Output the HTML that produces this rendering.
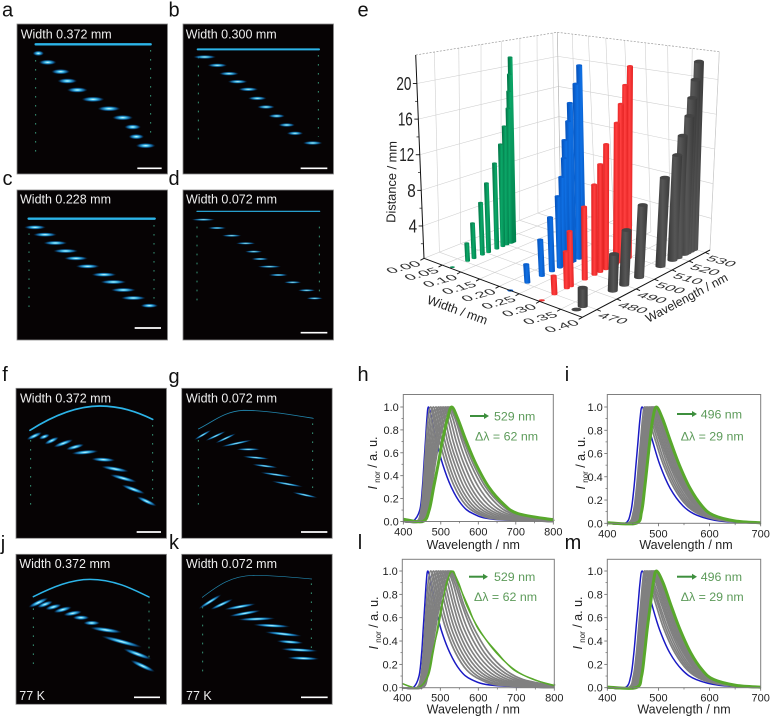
<!DOCTYPE html>
<html lang="en">
<head>
<meta charset="utf-8">
<title>Waveguide micrographs and spectra</title>
<style>
html,body{margin:0;padding:0;background:#fff;width:770px;height:718px;overflow:hidden}
svg{display:block;font-family:"Liberation Sans",sans-serif}
</style>
</head>
<body>
<svg id="fig" xmlns="http://www.w3.org/2000/svg" width="770" height="718" viewBox="0 0 770 718">
<defs>
<radialGradient id="blob"><stop offset="0" stop-color="#e4f9ff"/><stop offset=".3" stop-color="#48ccf5"/><stop offset=".68" stop-color="#0f69b0" stop-opacity=".8"/><stop offset="1" stop-color="#05304f" stop-opacity="0"/></radialGradient>
<linearGradient id="g-green"><stop offset="0" stop-color="#006f42"/><stop offset=".5" stop-color="#0ca868"/><stop offset="1" stop-color="#007f4c"/></linearGradient>
<linearGradient id="g-blue"><stop offset="0" stop-color="#0550b8"/><stop offset=".5" stop-color="#0f70e4"/><stop offset="1" stop-color="#0656c0"/></linearGradient>
<linearGradient id="g-red"><stop offset="0" stop-color="#e01e1e"/><stop offset=".5" stop-color="#ff4040"/><stop offset="1" stop-color="#e42222"/></linearGradient>
<linearGradient id="g-dark"><stop offset="0" stop-color="#383838"/><stop offset=".5" stop-color="#565656"/><stop offset="1" stop-color="#3a3a3a"/></linearGradient>
</defs>
</svg>
<script>
/* ---------- 3D bar chart data (panel e) ---------- */
const distanceValues = [0,2,4,6,8,10,12,14,16,18,20,22];
const green072Wavelengths = [464,471,474,478,481,485,488,490,492,492.5,493,493.5];
const blue228Wavelengths = [463,471,478,483,487,489,490.5,491,493,494,497,499];
const red300Wavelengths = [464,470,476,478,485,490,493,496,501.5,503.6,506,508.6];
const dark372Wavelengths = [466,469,484,490,498,510,517,520,524,525.5,527.5,529.5];
const ribbonWidths = [0.072,0.228,0.300,0.372];
const widthTicks = ['0.00','0.05','0.10','0.15','0.20','0.25','0.30','0.35','0.40'];
const wavelengthTicks = [470,480,490,500,510,520,530];
const distanceTicks = [4,8,12,16,20];

/* ---------- spectra data: wavelength (nm) where each curve crosses each intensity level ---------- */
const levels = [0,.1,.3,.5,.7,.9,1,.9,.7,.5,.3,.15,.07,.02];
const hBlue = [425,444,451,455,459,463,467,476,489,505,528,555,585,640];
const hGreen = [452,469,481,493,504,518,529,545,568,594,628,668,705,790];
const hGray = [
[436,447,453,457,461,466,473,483,497,514,537,565,597,650],
[438,449,455,460,465,471,480,490,504,521,545,574,606,660],
[440,451,458,463,469,476,487,497,511,529,553,583,616,670],
[442,453,460,466,473,481,494,504,518,537,562,593,627,682],
[444,455,462,469,477,486,500,511,525,545,571,603,638,695],
[446,457,465,472,481,491,506,518,533,553,580,613,650,708],
[447,459,467,475,485,496,512,525,541,562,590,625,662,722],
[448,461,470,478,488,501,517,532,549,571,601,637,675,738],
[450,463,473,481,492,506,521,538,557,580,612,650,688,755],
[451,465,476,485,496,511,525,541,562,587,620,660,698,770]];
const iBlue = [435,446,452,456,460,464,468,476,489,503,523,548,575,620];
const iGreen = [456,467,473,478,483,489,496,508,524,541,562,585,607,650];
const iGray = [
[440,451,457,461,465,469,473,481,495,510,531,556,584,630],
[442,453,459,463,467,472,476,485,499,514,535,560,588,634],
[444,455,461,465,469,474,479,488,503,518,539,564,592,637],
[446,457,463,467,471,476,482,491,506,522,543,568,596,640],
[447,458,464,469,473,478,485,494,509,525,547,572,600,642],
[449,460,466,471,475,480,487,497,512,528,550,575,603,644],
[450,461,467,472,477,482,489,500,515,531,553,578,605,646],
[452,463,469,474,479,484,491,502,518,534,556,581,607,648],
[453,464,470,475,480,486,493,504,520,537,558,582,608,649],
[455,466,472,477,482,488,495,506,522,539,560,584,609,650]];
const lBlue = [428,444,451,455,459,463,467,475,487,502,525,552,582,640];
const lGreen = [440,468,481,492,503,518,530,548,570,602,647,697,745,800];
const lGreenNoisy = [442,466,479,494,505,516,533,546,573,600,650,694,748,796];
const lGray = [
[438,449,455,459,463,468,475,485,498,515,540,570,605,660],
[440,451,457,462,467,473,482,492,505,522,548,580,615,672],
[442,453,460,465,471,478,489,499,513,530,557,590,628,686],
[444,455,462,468,475,483,495,506,520,538,566,601,640,700],
[446,457,464,471,479,488,501,512,527,546,575,612,652,715],
[448,459,467,474,483,493,507,519,535,554,585,624,665,730],
[449,461,469,477,487,498,513,526,542,563,595,636,678,745],
[450,463,472,480,490,503,518,533,550,572,606,648,692,760],
[452,465,475,483,494,508,522,538,558,582,616,660,705,775],
[453,467,478,487,498,513,526,543,563,590,627,672,718,790]];
const mBlue = [435,446,452,456,460,464,468,476,488,502,522,547,574,620];
const mGreen = [456,467,473,478,484,490,496,509,525,542,563,586,608,652];
const mGray = [
[441,451,457,461,465,469,473,482,496,511,532,557,585,632],
[443,453,459,463,467,471,476,485,500,515,536,561,589,636],
[444,455,461,465,469,473,479,488,503,519,540,565,593,639],
[446,457,463,467,471,476,482,491,507,523,544,569,597,642],
[448,459,465,469,473,478,485,495,510,526,548,573,601,644],
[449,460,466,471,475,480,487,498,513,529,551,576,604,646],
[451,462,468,473,477,482,489,500,516,532,554,579,606,648],
[452,463,469,474,479,484,491,503,519,535,557,582,608,650],
[453,465,471,476,481,486,493,505,521,538,559,583,609,651],
[455,466,472,477,482,488,495,507,523,540,561,585,610,652]];
const xTicksWide = [400,500,600,700,800];
const xTicksNarrow = [400,500,600,700];
const yTicks = [0,.2,.4,.6,.8,1];

/* ---------- micrograph features (reference-crop coordinates, 3 units = 1 px) ---------- */
const panels = [
 {id:'a',x:17,y:24,ox:0,oy:0,lx:7.5,ly:16.5,tx:20.7,ty:38.5,title:'Width 0.372 mm',sb:[412,485,505],ry:2.7,op:1,
  line:'M107 133 L452 133',lw:2.4,dots:[[107,180,455],[452,150,415]],
  blobs:[[115,160,22,0],[143,187,34,0],[182,215,36,0],[202,243,38,0],[232,270,40,0],[279,298,44,0],[327,326,44,0],[368,353,40,0],[398,381,32,0],[409,410,30,0],[437,437,38,0]]},
 {id:'b',x:183,y:24,ox:0,oy:0,lx:174,ly:16.5,tx:185.7,ty:38.5,title:'Width 0.300 mm',sb:[902,982,505],ry:2,op:.95,
  line:'M593 148 L957 148',lw:2,dots:[[595,170,425],[955,165,410]],
  blobs:[[614,171,44,0],[652,196,38,0],[687,221,38,0],[713,245,38,0],[745,268,38,0],[772,295,36,0],[798,321,34,0],[830,348,32,0],[860,375,32,0],[885,400,32,0],[938,429,38,0]]},
 {id:'c',x:17,y:190,ox:0,oy:0,lx:7.5,ly:185,tx:20,ty:203.5,title:'Width 0.228 mm',sb:[404,483,984],ry:2.2,op:1,
  line:'M86 656 L464 656',lw:2.4,dots:[[87,700,925],[462,675,900]],
  blobs:[[105,682,42,0],[135,704,46,0],[166,729,46,0],[197,753,48,0],[228,775,46,0],[263,799,46,0],[312,824,48,0],[340,846,50,0],[370,870,48,0],[400,894,48,0],[448,917,34,0]]},
 {id:'d',x:183,y:190,ox:0,oy:0,lx:174,ly:185,tx:186,ty:203.5,title:'Width 0.072 mm',sb:[902,982,998],ry:1.3,op:.9,
  line:'M591 634 L959 634',lw:1.2,dots:[[591,680,905],[958,680,880]],
  blobs:[[610,659,46,0],[651,684,36,0],[695,707,38,0],[737,730,38,0],[761,755,34,0],[780,777,34,0],[808,800,46,0],[835,825,38,0],[878,847,34,0],[920,871,34,0],[944,895,32,0]]},
 {id:'f',x:16,y:388.3,ox:0,oy:360,lx:5,ly:381,tx:20,ty:402.5,title:'Width 0.372 mm',sb:[410,483,516],ry:2.2,op:1,
  line:'M90 211 C170 160 240 138 300 138 C360 138 410 155 458 178',lw:1.7,dots:[[92,240,445],[458,195,420]],
  blobs:[[103,228,32,-25],[133,230,22,-20],[155,242,30,-25],[190,250,40,-20],[225,261,36,-15],[255,277,52,-5],[310,299,46,3],[345,327,54,10],[370,355,54,15],[400,388,48,20],[440,424,42,25]]},
 {id:'g',x:181.7,y:388.3,ox:0,oy:360,lx:174,ly:383,tx:186,ty:402.5,title:'Width 0.072 mm',sb:[903,982,516],ry:1.3,op:.95,
  line:'M595 207 C640 185 670 155 730 151 C800 151 880 165 940 175',lw:.8,dots:[[595,240,440],[938,190,390]],
  blobs:[[608,225,38,-30],[647,228,44,-25],[677,235,44,-25],[710,250,62,-12],[745,268,46,0],[768,293,52,5],[795,318,50,7],[828,344,62,8],[862,372,62,10],[915,405,50,12]]},
 {id:'j',x:16,y:554.3,ox:0,oy:360,lx:3,ly:550,tx:19.3,ty:568,title:'Width 0.372 mm',sb:[402,480,1012],ry:2.4,op:1,foot:'77 K',fx:19.3,
  line:'M100 710 C160 680 215 658 270 658 C340 658 395 685 447 711',lw:1.5,dots:[[100,745,925],[447,725,905]],
  blobs:[[115,728,42,-25],[135,733,32,-20],[160,741,32,-15],[188,749,36,-15],[218,760,36,-10],[243,773,32,0],[275,789,32,0],[318,810,62,8],[365,845,82,15],[412,882,58,20],[428,918,52,25]]},
 {id:'k',x:181.7,y:554.3,ox:0,oy:360,lx:174,ly:549,tx:186,ty:568,title:'Width 0.072 mm',sb:[903,983,1012],ry:1.8,op:1,foot:'77 K',fx:186,
  line:'M607 712 C650 680 690 648 760 646 C820 646 880 652 935 657',lw:.7,dots:[[608,740,950],[934,670,870]],
  blobs:[[630,725,52,-32],[665,733,48,-25],[720,740,62,-10],[735,760,62,-10],[770,777,72,-2],[815,797,72,3],[850,822,72,6],[870,846,52,4],[898,870,72,3],[910,895,62,2]]}
];

const S = 'http://www.w3.org/2000/svg';
const fig = document.getElementById('fig');
function add(parent, tag, attrs, name, interact) {
  const n = document.createElementNS(S, tag);
  for (const k in attrs) n.setAttribute(k, attrs[k]);
  
  
  parent.appendChild(n);
  return n;
}
function label(parent, str, x, y, size, fill, name, extra) {
  const t = add(parent, 'text', Object.assign({x:x, y:y, 'font-size':size, fill:fill}, extra || {}), name);
  t.textContent = str;
  return t;
}
function letter(str, x, y) {
  return label(fig, str, x, y, 20, '#111', 'panel-letter-' + str, {'text-anchor':'middle'});
}

/* ---------- micrographs ---------- */
panels.forEach(function (p) {
  const g = add(fig, 'g', {}, 'micrograph-' + p.id);
  add(g, 'rect', {x:p.x, y:p.y, width:150.5, height:150, fill:'#060304', stroke:'#8a8a8a', 'stroke-width':.8}, 'micrograph-background');
  const inner = add(g, 'g', {transform:'translate(' + p.ox + ' ' + p.oy + ') scale(.33333)'}, 'waveguide-features');
  p.dots.forEach(function (d) {
    add(inner, 'line', {x1:d[0], y1:d[1], x2:d[0], y2:d[2], stroke:'#45b893', 'stroke-width':2.8, 'stroke-dasharray':'5 22', opacity:.85}, 'edge-scatter-dots');
  });
  add(inner, 'path', {d:p.line, fill:'none', stroke:'#2cb4e8', 'stroke-width':p.lw * 3, 'stroke-linecap':'round', opacity:p.lw < 1 ? .75 : 1}, 'crystal-top-edge');
  p.blobs.forEach(function (b) {
    add(inner, 'ellipse', {cx:b[0], cy:b[1], rx:b[2] * .78, ry:p.ry * 3, fill:'url(#blob)', opacity:p.op, transform:'rotate(' + b[3] + ' ' + b[0] + ' ' + b[1] + ')'}, 'emission-spot');
  });
  add(inner, 'line', {x1:p.sb[0], y1:p.sb[2], x2:p.sb[1], y2:p.sb[2], stroke:'#fff', 'stroke-width':5}, 'scale-bar');
  label(g, p.title, p.tx, p.ty, 12.5, '#eee', 'width-label');
  if (p.foot) label(g, p.foot, p.fx, 700, 12.5, '#eee', 'temperature-label');
  letter(p.id, p.lx, p.ly);
});

/* ---------- panel e: perspective 3D bars ---------- */
function quadMap(p00, p10, p11, p01) {
  const dx1 = p10[0] - p11[0], dx2 = p01[0] - p11[0], sx = p00[0] - p10[0] + p11[0] - p01[0];
  const dy1 = p10[1] - p11[1], dy2 = p01[1] - p11[1], sy = p00[1] - p10[1] + p11[1] - p01[1];
  const den = dx1 * dy2 - dx2 * dy1;
  const g = (sx * dy2 - dx2 * sy) / den, h = (dx1 * sy - sx * dy1) / den;
  const a = p10[0] - p00[0] + g * p10[0], b = p01[0] - p00[0] + h * p01[0];
  const d = p10[1] - p00[1] + g * p10[1], e = p01[1] - p00[1] + h * p01[1];
  return function (u, v) {
    const w = g * u + h * v + 1;
    return [(a * u + b * v + p00[0]) / w, (d * u + e * v + p00[1]) / w];
  };
}
const floorAt = quadMap([424,258.3],[582.3,317.3],[710,250],[560.7,204]);
const ceilAt = quadMap([415.7,55],[583,100.7],[719.3,51.7],[557.3,32.3]);
const maxZ = 23.2;
function uOf(w) { return w / 0.4; }
function vOf(l) { return (l - 463) / 70; }
function at(u, v, f) {
  const a = floorAt(u, v), b = ceilAt(u, v);
  return [a[0] + (b[0] - a[0]) * f, a[1] + (b[1] - a[1]) * f];
}
function tickFrac(z) { return (z - .37) / 22.83; }
const chart = add(fig, 'g', {}, 'distance-bar-chart-3d');
function seg(parent, a, b, stroke, w, name, dash) {
  const attrs = {x1:a[0], y1:a[1], x2:b[0], y2:b[1], stroke:stroke, 'stroke-width':w};
  if (dash) attrs['stroke-dasharray'] = dash;
  return add(parent, 'line', attrs, name);
}
const gridCol = '#d0d0d0';
wavelengthTicks.forEach(function (l) {
  const v = vOf(l);
  seg(chart, at(0, v, 0), at(0, v, 1), gridCol, .6, 'left-wall-gridline');
  seg(chart, floorAt(0, v), floorAt(1, v), gridCol, .6, 'floor-gridline');
});
widthTicks.forEach(function (t) {
  const u = uOf(parseFloat(t));
  seg(chart, at(u, 1, 0), at(u, 1, 1), gridCol, .6, 'right-wall-gridline');
  seg(chart, floorAt(u, 0), floorAt(u, 1), gridCol, .6, 'floor-gridline');
});
distanceTicks.forEach(function (z) {
  const f = tickFrac(z);
  seg(chart, at(0, 0, f), at(0, 1, f), gridCol, .6, 'left-wall-gridline');
  seg(chart, at(0, 1, f), at(1, 1, f), gridCol, .6, 'right-wall-gridline');
});
seg(chart, at(0,0,1), at(0,1,1), '#999', .7, 'top-frame-edge', '2 1.5');
seg(chart, at(0,1,1), at(1,1,1), '#999', .7, 'top-frame-edge', '2 1.5');
seg(chart, at(0,1,0), at(0,1,1), '#bbb', .7, 'back-corner-edge');
seg(chart, at(1,1,0), at(1,1,1), '#ccc', .7, 'right-frame-edge');

const barSeries = [
  {name:'green', wl:green072Wavelengths, w:ribbonWidths[0], r:2.4, cap:'#0a8f58'},
  {name:'blue', wl:blue228Wavelengths, w:ribbonWidths[1], r:3, cap:'#0a60d0'},
  {name:'red', wl:red300Wavelengths, w:ribbonWidths[2], r:3, cap:'#f03434'},
  {name:'dark', wl:dark372Wavelengths, w:ribbonWidths[3], r:5, cap:'#444444'}
];
barSeries.forEach(function (s) {
  const u = uOf(s.w);
  const order = s.wl.map(function (l, i) { return i; }).reverse();
  order.forEach(function (i) {
    const v = vOf(s.wl[i]);
    const z = distanceValues[i];
    const b = floorAt(u, v), t = at(u, v, z / maxZ);
    const r = s.r, ry = r * .38;
    if (z > 0) {
      const d = 'M' + (b[0] - r) + ' ' + b[1] + ' A' + r + ' ' + ry + ' 0 0 0 ' + (b[0] + r) + ' ' + b[1] +
        ' L' + (t[0] + r) + ' ' + t[1] + ' L' + (t[0] - r) + ' ' + t[1] + ' Z';
      add(chart, 'path', {d:d, fill:'url(#g-' + s.name + ')'}, 'bar-' + s.name);
    }
    add(chart, 'ellipse', {cx:t[0], cy:t[1], rx:r, ry:ry, fill:s.cap}, 'bar-top-' + s.name);
  });
});

seg(chart, at(0,0,0), at(0,0,1), '#111', 1, 'distance-axis');
seg(chart, at(0,0,0), at(1,0,0), '#111', 1, 'width-axis');
seg(chart, at(1,0,0), at(1,1,0), '#111', 1, 'wavelength-axis');
distanceTicks.forEach(function (z) {
  const p = at(0, 0, tickFrac(z));
  seg(chart, p, [p[0] - 4, p[1]], '#111', .9, 'distance-tick');
  const q = at(0, 0, tickFrac(z - 2));
  seg(chart, q, [q[0] - 2.5, q[1]], '#111', .7, 'distance-minor-tick');
  label(chart, String(z), p[0] - 5.5, p[1] + 6.5, 18, '#222', 'distance-tick-label', {'text-anchor':'end', textLength: z < 10 ? 8.5 : 15, lengthAdjust:'spacingAndGlyphs'});
});
widthTicks.forEach(function (t) {
  const u = uOf(parseFloat(t));
  const p = floorAt(u, 0);
  seg(chart, p, [p[0] - 3.6, p[1] + 2], '#111', .9, 'width-tick');
  label(chart, t, 0, 0, 15, '#333', 'width-tick-label', {'text-anchor':'middle', transform:'matrix(1.08 -.3 .6 .46 ' + (p[0] - 17.5) + ' ' + (p[1] + 11.2) + ')'});
});
wavelengthTicks.forEach(function (l) {
  const p = floorAt(1, vOf(l));
  seg(chart, p, [p[0] + 4, p[1] + 1.6], '#111', .9, 'wavelength-tick');
  label(chart, String(l), 0, 0, 15, '#333', 'wavelength-tick-label', {'text-anchor':'middle', transform:'matrix(1.08 .29 -.6 .46 ' + (p[0] + 13) + ' ' + (p[1] + 11) + ')'});
});
label(chart, 'Distance / mm', 0, 0, 12.8, '#222', 'distance-axis-title', {'text-anchor':'middle', transform:'translate(396 182) rotate(-89)'});
label(chart, 'Width / mm', 0, 0, 12.5, '#222', 'width-axis-title', {'text-anchor':'middle', transform:'translate(456 314) rotate(20)'});
label(chart, 'Wavelength / nm', 0, 0, 12.2, '#222', 'wavelength-axis-title', {'text-anchor':'middle', transform:'translate(688.6 301.5) rotate(-28)'});
letter('e', 363, 16.5);

/* ---------- spectra panels ---------- */
function smooth(pts) {
  let d = 'M' + pts[0][0].toFixed(2) + ' ' + pts[0][1].toFixed(2);
  for (let i = 0; i < pts.length - 1; i++) {
    const p0 = pts[Math.max(i - 1, 0)], p1 = pts[i], p2 = pts[i + 1], p3 = pts[Math.min(i + 2, pts.length - 1)];
    d += ' C' + (p1[0] + (p2[0] - p0[0]) / 6).toFixed(2) + ' ' + (p1[1] + (p2[1] - p0[1]) / 6).toFixed(2) +
      ' ' + (p2[0] - (p3[0] - p1[0]) / 6).toFixed(2) + ' ' + (p2[1] - (p3[1] - p1[1]) / 6).toFixed(2) +
      ' ' + p2[0].toFixed(2) + ' ' + p2[1].toFixed(2);
  }
  return d;
}
const spectra = [
 {id:'h',left:403.3,right:553.3,y0:521.5,y1:407,top:394.5,xmax:800,ticks:xTicksWide,blue:hBlue,gray:hGray,green:hGreen,gw:3,tail:.02,lx:363,ly:381,tcx:473.3,tby:549,arrow:[470,489,416],peak:'529 nm',px:494,py:420.5,delta:'Δλ = 62 nm',dx:475,dy:440.5,ytx:377,yty:463},
 {id:'i',left:607.3,right:760.7,y0:523.3,y1:407,top:394.5,xmax:700,ticks:xTicksNarrow,blue:iBlue,gray:iGray,green:iGreen,gw:3,tail:.005,lx:567,ly:381,tcx:686,tby:549,arrow:[677,697,414],peak:'496 nm',px:700.7,py:418.5,delta:'Δλ = 29 nm',dx:680.7,dy:440.5,ytx:585,yty:463},
 {id:'l',left:402.3,right:554.3,y0:687.7,y1:571,top:559.3,xmax:800,ticks:xTicksWide,blue:lBlue,gray:lGray,green:lGreen,gw:1.4,tail:.035,lx:360,ly:549,tcx:473.3,tby:713.5,arrow:[469,488,576.7],peak:'529 nm',px:494,py:581,delta:'Δλ = 62 nm',dx:474,dy:601,ytx:378,yty:623},
 {id:'m',left:607.3,right:760.7,y0:687.7,y1:571,top:559.3,xmax:700,ticks:xTicksNarrow,blue:mBlue,gray:mGray,green:mGreen,gw:3,tail:.005,lx:573,ly:549,tcx:684,tby:713.5,arrow:[677,697,576.7],peak:'496 nm',px:700.7,py:581,delta:'Δλ = 29 nm',dx:680.7,dy:601,ytx:582,yty:623}
];
spectra.forEach(function (c) {
  const g = add(fig, 'g', {}, 'spectrum-chart-' + c.id);
  const x = function (l) { return c.left + (l - 400) / (c.xmax - 400) * (c.right - c.left); };
  const y = function (v) { return c.y0 - v * (c.y0 - c.y1); };
  function curve(arr, tail, stroke, w, name, start) {
    const pts = [[x(400), y(start)]];
    arr.forEach(function (l, i) { pts.push([x(l), y(levels[i])]); });
    if (arr[arr.length - 1] < c.xmax) pts.push([x(c.xmax), y(tail)]);
    add(g, 'path', {d:smooth(pts), fill:'none', stroke:stroke, 'stroke-width':w, 'stroke-linejoin':'round'}, name);
  }
  curve(c.blue, 0, '#1a1ac4', 1.5, 'series-470nm-blue', 0);
  c.gray.forEach(function (s) { curve(s, 0, '#808080', 1.7, 'series-intermediate-gray', 0); });
  curve(c.green, c.tail, '#58a82c', c.gw, 'series-max-shift-green', c.tail);
  if (c.id === 'l') curve(lGreenNoisy, c.tail, '#58a82c', 1.2, 'series-max-shift-green-noisy', c.tail);
  add(g, 'rect', {x:c.left, y:c.top, width:c.right - c.left, height:c.y0 - c.top, fill:'none', stroke:'#7f7f7f', 'stroke-width':1}, 'plot-frame');
  c.ticks.forEach(function (t, i) {
    seg(g, [x(t), c.y0], [x(t), c.y0 + 3], '#666', .8, 'x-tick');
    if (i < c.ticks.length - 1) seg(g, [x(t + 50), c.y0], [x(t + 50), c.y0 + 1.8], '#666', .7, 'x-minor-tick');
    label(g, String(t), x(t), c.y0 + 14, 11, '#222', 'x-tick-label', {'text-anchor':'middle'});
  });
  yTicks.forEach(function (t, i) {
    seg(g, [c.left, y(t)], [c.left - 3, y(t)], '#666', .8, 'y-tick');
    if (i < yTicks.length - 1) seg(g, [c.left, y(t + .1)], [c.left - 1.8, y(t + .1)], '#666', .7, 'y-minor-tick');
    label(g, t.toFixed(1), c.left - 4.5, y(t) + 4, 11, '#222', 'y-tick-label', {'text-anchor':'end'});
  });
  label(g, 'Wavelength / nm', c.tcx, c.tby, 12.5, '#222', 'x-axis-title', {'text-anchor':'middle'});
  const yt = add(g, 'text', {'font-size':12.5, fill:'#222', 'text-anchor':'middle', transform:'translate(' + c.ytx + ' ' + c.yty + ') rotate(-90)'}, 'y-axis-title');
  yt.innerHTML = '<tspan font-style="italic">I</tspan><tspan font-size="8" dy="3" dx="1"> nor</tspan><tspan dy="-3"> / a. u.</tspan>';
  const a = c.arrow;
  seg(g, [a[0], a[2]], [a[1] - 4, a[2]], '#3d8f3d', 2, 'shift-arrow-shaft');
  add(g, 'polygon', {points:(a[1] - 5) + ',' + (a[2] - 3) + ' ' + a[1] + ',' + a[2] + ' ' + (a[1] - 5) + ',' + (a[2] + 3), fill:'#3d8f3d'}, 'shift-arrow-head');
  label(g, c.peak, c.px, c.py, 12.4, '#5d9b5a', 'peak-wavelength-label');
  label(g, c.delta, c.dx, c.dy, 12.4, '#5d9b5a', 'wavelength-shift-label');
  letter(c.id, c.lx, c.ly);
});
</script>
</body>
</html>
